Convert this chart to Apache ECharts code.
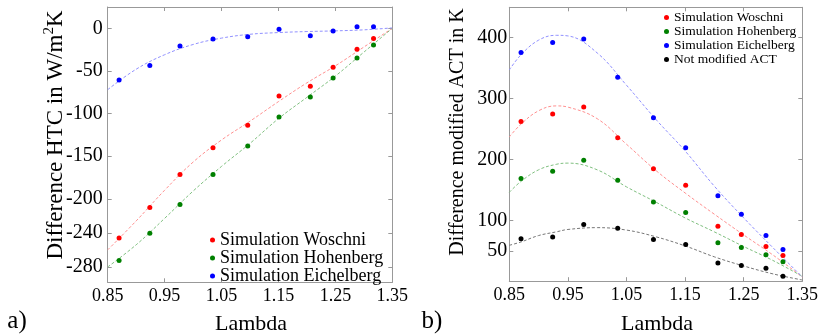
<!DOCTYPE html>
<html><head><meta charset="utf-8">
<script src="https://cdn.jsdelivr.net/npm/echarts@6/dist/echarts.min.js"></script>
<style>html,body{margin:0;padding:0;background:#fff}#c{width:827px;height:336px}</style>
</head><body><div id="c"></div>
<script>
// ---- data ----
const lambdaPts = [0.87, 0.924, 0.977, 1.035, 1.096, 1.151, 1.206, 1.246, 1.288, 1.317];
// panel a) Difference HTC
const htcWoschni = [-245.9, -210.2, -171.5, -140.2, -113.6, -79.5, -68.1, -45.8, -24.7, -12.1];
const htcHohenberg = [-272.5, -240.4, -206.7, -171.5, -138.2, -104.2, -80.7, -58.3, -34.8, -19.6];
const htcEichelberg = [-60.7, -43.5, -20.8, -12.6, -9.8, -1.2, -8.6, -3.1, 1.9, 1.9];
const fitLambdaA = [0.85, 0.9, 0.95, 1.0, 1.05, 1.1, 1.15, 1.2, 1.25, 1.3, 1.35];
const fitHtcWoschni = [-260, -226, -190, -157, -131, -109, -86, -64, -44, -22, 0];
const fitHtcHohenberg = [-280, -254, -223, -191, -162, -135, -106, -81, -56, -28, 0];
const fitHtcEichelberg = [-72, -48, -31, -19, -11.5, -7, -5, -3.8, -3, -1.8, 0.5];
// panel b) Difference modified ACT
const actWoschni = [262.3, 274.9, 286.4, 235.5, 184.6, 157.7, 90.4, 76.7, 57, 42.2];
const actHohenberg = [168.7, 180.7, 198.8, 165.9, 130.3, 112.8, 63, 55.3, 43.3, 31.8];
const actEichelberg = [375.7, 392.1, 398.1, 335.2, 268.4, 219.1, 140.2, 110.1, 75, 52];
const actNotModified = [69.6, 72.8, 93.1, 87, 68.5, 60.2, 30.1, 25.7, 21.4, 8.2];
const fitLambdaB = [0.85, 0.87, 0.9, 0.93, 0.95, 1.0, 1.05, 1.1, 1.15, 1.2, 1.25, 1.3, 1.35];
const fitActWoschni = [237, 258, 280, 288, 286, 267, 225, 182, 145, 110, 76, 43, 7];
const fitActHohenberg = [146, 164, 183, 192, 194, 183, 155, 130, 104, 81, 57, 34, 8];
const fitActEichelberg = [347, 372, 396, 404, 403, 375, 322, 266, 214, 156, 104, 55, 7];
const fitActNotModified = [59, 64.5, 75, 81, 85, 88, 84, 73, 58, 40, 25, 12, 2];
// ticks
const xTicks = [0.85, 0.95, 1.05, 1.15, 1.25, 1.35];
const yTicksA = [0, -50, -100, -150, -200, -240, -280];
const yTicksB = [50, 100, 200, 300, 400];
const legendA = ['Simulation Woschni', 'Simulation Hohenberg', 'Simulation Eichelberg'];
const legendB = ['Simulation Woschni', 'Simulation Hohenberg', 'Simulation Eichelberg', 'Not modified ACT'];

// ---- chart ----
const FONT = 'Liberation Serif';
const AX = '#999';
const pairs = (xs, ys) => xs.map((x, i) => [x, ys[i]]);
const T = s => '{t|' + s + '}';
const rt = (size, lh) => ({ t: { fontFamily: FONT, fontSize: size, lineHeight: lh || size * 1.15, color: '#000' } });

function xAx(gi, pos, show) {
  return {
    type: 'value', gridIndex: gi, position: pos, min: 0.85, max: 1.35,
    axisLine: { show: true, onZero: false, lineStyle: { color: AX, width: 1 } },
    axisTick: { show: true, inside: true, length: 4, customValues: xTicks, lineStyle: { color: AX } },
    axisLabel: { show: show, customValues: xTicks, formatter: v => T(v.toFixed(2)), rich: rt(18),
      fontFamily: FONT, fontSize: 18, margin: 4 },
    splitLine: { show: false }
  };
}
function yAx(gi, pos, show, min, max, ticks, margin) {
  return {
    type: 'value', gridIndex: gi, position: pos, min: min, max: max,
    axisLine: { show: true, onZero: false, lineStyle: { color: AX, width: 1 } },
    axisTick: { show: true, inside: true, length: 4, customValues: ticks, lineStyle: { color: AX } },
    axisLabel: { show: show, customValues: ticks, formatter: v => T(String(v)), rich: rt(20),
      fontFamily: FONT, fontSize: 20, margin: margin },
    splitLine: { show: false }
  };
}
function dots(name, xi, data, color) {
  return { type: 'scatter', name: name, xAxisIndex: xi, yAxisIndex: xi, data: data,
    symbol: 'circle', symbolSize: 5, itemStyle: { color: color, opacity: 1 }, z: 3 };
}
function fit(name, xi, data, color) {
  return { type: 'line', name: name, xAxisIndex: xi, yAxisIndex: xi, data: data, smooth: 0.4,
    showSymbol: false, symbol: 'none', lineStyle: { color: color, width: 1, type: [3, 2] }, z: 2 };
}
function label(x, y, text, size) {
  return { type: 'text', x: x, y: y,
    style: { text: T(text), align: 'center', verticalAlign: 'middle', rich: rt(size) } };
}

const chart = echarts.init(document.getElementById('c'), null, { renderer: 'canvas' });
chart.setOption({
  animation: false,
  backgroundColor: '#fff',
  textStyle: { fontFamily: FONT },
  grid: [
    { left: 107.7, top: 7, width: 284.6, height: 275.3 },
    { left: 509.3, top: 7.3, width: 293, height: 273.9 }
  ],
  xAxis: [xAx(0, 'bottom', true), xAx(0, 'top', false), xAx(1, 'bottom', true), xAx(1, 'top', false)],
  yAxis: [
    yAx(0, 'left', true, -298, 25, yTicksA, 5), yAx(0, 'right', false, -298, 25, yTicksA, 5),
    yAx(1, 'left', true, 0, 450, yTicksB, 2), yAx(1, 'right', false, 0, 450, yTicksB, 2)
  ],
  legend: [
    { data: legendA, orient: 'vertical', left: 210, top: 231, padding: 0, itemGap: 0,
      icon: 'circle', itemWidth: 5, itemHeight: 5, formatter: T,
      textStyle: { fontFamily: FONT, fontSize: 18, lineHeight: 15.7, rich: rt(18, 15.7) } },
    { data: legendB, orient: 'vertical', left: 664, top: 10.6, padding: 0, itemGap: 0,
      icon: 'circle', itemWidth: 5, itemHeight: 5, formatter: T,
      textStyle: { fontFamily: FONT, fontSize: 13.5, lineHeight: 12.2, rich: rt(13.5, 12.2) } }
  ],
  series: [
    fit('fitHW', 0, pairs(fitLambdaA, fitHtcWoschni), '#ff9090'),
    fit('fitHH', 0, pairs(fitLambdaA, fitHtcHohenberg), '#80c080'),
    fit('fitHE', 0, pairs(fitLambdaA, fitHtcEichelberg), '#9090ff'),
    dots('Simulation Woschni', 0, pairs(lambdaPts, htcWoschni), '#ff0000'),
    dots('Simulation Hohenberg', 0, pairs(lambdaPts, htcHohenberg), '#008000'),
    dots('Simulation Eichelberg', 0, pairs(lambdaPts, htcEichelberg), '#0000ff'),
    fit('fitAW', 2, pairs(fitLambdaB, fitActWoschni), '#ff9090'),
    fit('fitAH', 2, pairs(fitLambdaB, fitActHohenberg), '#80c080'),
    fit('fitAE', 2, pairs(fitLambdaB, fitActEichelberg), '#9090ff'),
    fit('fitAN', 2, pairs(fitLambdaB, fitActNotModified), '#777777'),
    dots('Simulation Woschni', 2, pairs(lambdaPts, actWoschni), '#ff0000'),
    dots('Simulation Hohenberg', 2, pairs(lambdaPts, actHohenberg), '#008000'),
    dots('Simulation Eichelberg', 2, pairs(lambdaPts, actEichelberg), '#0000ff'),
    dots('Not modified ACT', 2, pairs(lambdaPts, actNotModified), '#000000')
  ],
  graphic: [
    { type: 'text', x: 54.5, y: 135, rotation: Math.PI / 2,
      style: { text: '{a|Difference HTC in W/m}{s|2}{a|K}', align: 'center', verticalAlign: 'middle',
        rich: { a: { fontFamily: FONT, fontSize: 23, lineHeight: 26, fill: '#000', verticalAlign: 'bottom' },
                s: { fontFamily: FONT, fontSize: 15, lineHeight: 26, fill: '#000', verticalAlign: 'top' } } } },
    { type: 'text', x: 458, y: 132, rotation: Math.PI / 2,
      style: { text: T('Difference modified ACT in K'), align: 'center', verticalAlign: 'middle', rich: rt(20) } },
    label(251, 324, 'Lambda', 22),
    label(657, 324, 'Lambda', 22),
    label(17, 321, 'a)', 25),
    label(432, 321, 'b)', 25)
  ]
});
</script>
</body></html>
